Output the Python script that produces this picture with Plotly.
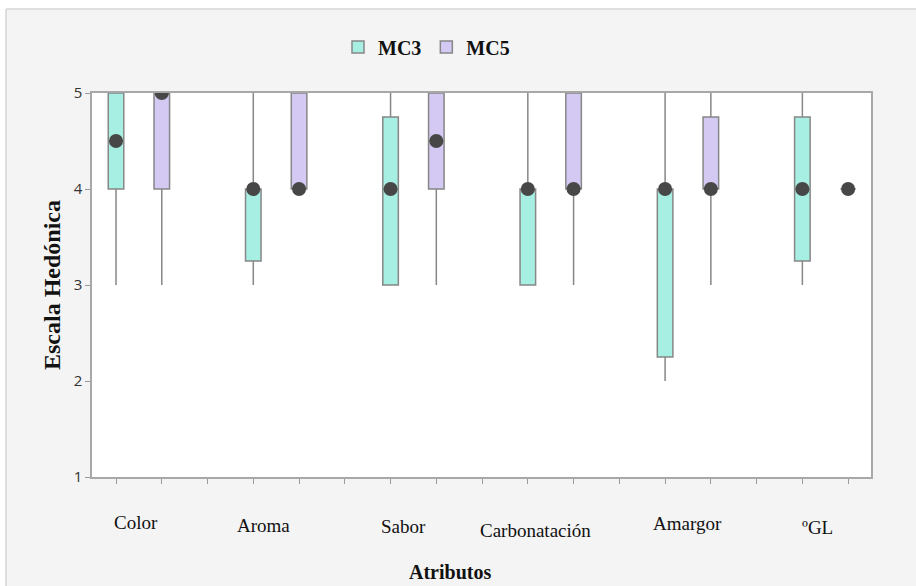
import plotly.graph_objects as go

# ---- data ----
categories = ["Color", "Aroma", "Sabor", "Carbonatación", "Amargor", "ºGL"]
series = ["MC3", "MC5"]

mc3_low = [3, 3, 3, 3, 2, 3]
mc3_q1 = [4, 3.25, 3, 3, 2.25, 3.25]
mc3_med = [4.5, 4, 4, 4, 4, 4]
mc3_q3 = [5, 4, 4.75, 4, 4, 4.75]
mc3_high = [5, 5, 5, 5, 5, 5]

mc5_low = [3, 4, 3, 3, 3, 4]
mc5_q1 = [4, 4, 4, 4, 4, 4]
mc5_med = [5, 4, 4.5, 4, 4, 4]
mc5_q3 = [5, 5, 5, 5, 4.75, 4]
mc5_high = [5, 5, 5, 5, 5, 4]

y_ticks = [1, 2, 3, 4, 5]

# ---- layout constants ----
W, H = 916, 586
L, R, T, B = 92, 871, 93, 477
PW, PH = R - L, B - T

def px_x(px):
    return (px - L) / PW

def px_y(py):
    return (B - py) / PH

fills = {"MC3": "#a7efe2", "MC5": "#d3c9f3"}
edge = "#878787"
dot = "#474747"

n = len(categories)
x_mc3 = [3 * i + 1 for i in range(n)]
x_mc5 = [3 * i + 2 for i in range(n)]

fig = go.Figure()
stats = {
    "MC3": (x_mc3, mc3_low, mc3_q1, mc3_med, mc3_q3, mc3_high),
    "MC5": (x_mc5, mc5_low, mc5_q1, mc5_med, mc5_q3, mc5_high),
}
for name in series:
    xs, lo, q1, med, q3, hi = stats[name]
    fig.add_trace(go.Box(
        name=name, x=xs, q1=q1, median=med, q3=q3,
        lowerfence=lo, upperfence=hi,
        width=0.34, whiskerwidth=0, boxpoints=False,
        fillcolor=fills[name], line=dict(color=edge, width=1.5),
        hoverinfo="skip",
    ))
for name in series:
    xs, lo, q1, med, q3, hi = stats[name]
    fig.add_trace(go.Scatter(
        x=xs, y=med, mode="markers", showlegend=False,
        marker=dict(color=dot, size=14, line=dict(width=0)),
        cliponaxis=True, hoverinfo="skip",
    ))

serif = "Liberation Serif"

# category labels (text placement in pixels)
label_px = [(136, 522), (263, 525), (403, 526), (535, 530), (687, 523), (817, 527)]
annotations = []
for cat, (lx, ly) in zip(categories, label_px):
    annotations.append(dict(
        text=cat, x=px_x(lx), y=px_y(ly), xref="paper", yref="paper",
        showarrow=False, xanchor="center", yanchor="middle",
        font=dict(family=serif, size=19, color="#111"),
    ))
annotations.append(dict(
    text="<b>Atributos</b>", x=px_x(450), y=px_y(572), xref="paper", yref="paper",
    showarrow=False, xanchor="center", yanchor="middle",
    font=dict(family=serif, size=20, color="#111"),
))
annotations.append(dict(
    text="<b>Escala Hedónica</b>", x=px_x(52), y=px_y(285), xref="paper", yref="paper",
    showarrow=False, xanchor="center", yanchor="middle", textangle=-90,
    font=dict(family=serif, size=24, color="#111"),
))

shapes = [
    # white strip at the top and on the left, with light borders
    dict(type="rect", xref="paper", yref="paper", x0=px_x(-10), x1=px_x(W + 10),
         y0=px_y(9), y1=px_y(-10), fillcolor="white", line=dict(width=0), layer="below"),
    dict(type="rect", xref="paper", yref="paper", x0=px_x(-10), x1=px_x(6),
         y0=px_y(W), y1=px_y(-10), fillcolor="white", line=dict(width=0), layer="below"),
    dict(type="line", xref="paper", yref="paper", x0=px_x(6), x1=px_x(W + 10),
         y0=px_y(9), y1=px_y(9), line=dict(color="#d6d6d6", width=1.5)),
    dict(type="line", xref="paper", yref="paper", x0=px_x(6), x1=px_x(6),
         y0=px_y(9), y1=px_y(W), line=dict(color="#d6d6d6", width=1.5)),
]

fig.update_layout(
    width=W, height=H,
    margin=dict(l=L, r=W - R, t=T, b=H - B, pad=0),
    paper_bgcolor="#f4f4f4", plot_bgcolor="white",
    boxmode="overlay",
    showlegend=True,
    legend=dict(
        orientation="h", x=px_x(338), y=px_y(47), xanchor="left", yanchor="middle",
        font=dict(family=serif, size=20, color="#111", weight="bold"),
        bgcolor="rgba(0,0,0,0)", itemclick=False,
    ),
    xaxis=dict(
        range=[0.475, 17.5], tickvals=list(range(1, 3 * n)), showticklabels=False,
        ticks="outside", ticklen=5, tickcolor="#9a9a9a", tickwidth=1,
        showgrid=False, zeroline=False, showline=True, mirror=True,
        linecolor="#a8a8a8", linewidth=1.5, fixedrange=True,
    ),
    yaxis=dict(
        range=[1, 5], tickvals=y_ticks, ticks="outside", ticklen=5,
        tickcolor="#9a9a9a", tickwidth=1,
        tickfont=dict(family="Open Sans", size=15, color="#333"),
        showgrid=False, zeroline=False, showline=True, mirror=True,
        linecolor="#a8a8a8", linewidth=1.5, fixedrange=True,
    ),
    annotations=annotations,
    shapes=shapes,
)

fig.write_html("out.html")
